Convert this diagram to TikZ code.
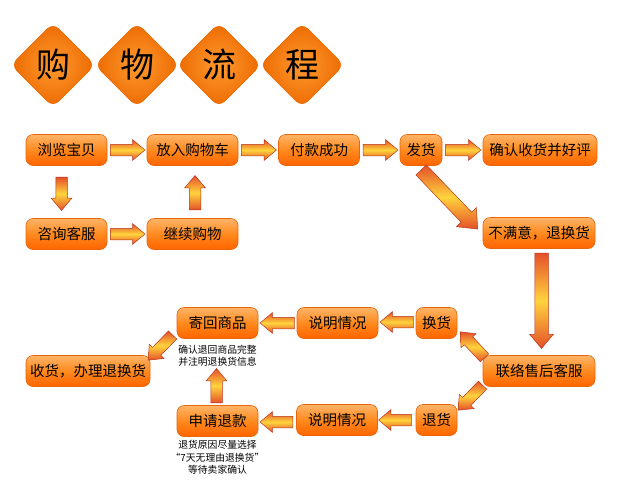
\documentclass[tikz,border=0pt]{standalone}
\usepackage{fontspec}
\setmainfont{Noto Sans CJK SC}
\usetikzlibrary{shapes.geometric,shapes.arrows,calc}
\definecolor{boxtop}{HTML}{FFB468}
\definecolor{boxmid}{HTML}{FF8A1E}
\definecolor{boxbot}{HTML}{FF6400}
\definecolor{boxedge}{HTML}{E8650A}
\definecolor{arrred}{HTML}{E4502A}
\definecolor{arryel}{HTML}{FFD43C}
\definecolor{arredge}{HTML}{B8361A}
\definecolor{dmin}{HTML}{FF9A30}
\definecolor{dmout}{HTML}{EC6A00}
\tikzset{
  box/.style={rectangle, rounded corners=7pt, draw=boxedge, line width=0.6pt,
    top color=boxtop, bottom color=boxbot, middle color=boxmid,
    minimum height=31pt, inner sep=1pt, text=black,
    font=\fontsize{14.5}{16}\selectfont},
  titlebox/.style={diamond, aspect=1, minimum width=84pt, minimum height=84pt,
    inner sep=0pt, rounded corners=8pt, draw=dmout, line width=0.6pt,
    inner color=dmin, outer color=dmout, text=black,
    font=\fontsize{34}{36}\selectfont},
  caption/.style={align=center, text=black, inner sep=0pt,
    font=\fontsize{9.8}{12.3}\selectfont},
  arrowshape/.style={single arrow, inner xsep=0pt, draw=arredge, line width=0.5pt,
    top color=arrred, bottom color=arrred, middle color=arryel,
    single arrow tip angle=80, minimum width=0pt},
  arrsmall/.style={inner ysep=5.5pt, single arrow head extend=4.5pt},
  arrlong/.style={inner ysep=6.5pt, single arrow head extend=5pt},
  arrbig/.style={inner ysep=7pt, single arrow head extend=6.5pt},
  fat/.style={to path={let \p1=(\tikztostart), \p2=(\tikztotarget),
      \n1={veclen(\x2-\x1,\y2-\y1)}, \n2={atan2(\y2-\y1,\x2-\x1)} in
      node[arrowshape, #1, minimum height=\n1, rotate=\n2, anchor=tail] at (\p1) {}
      (\tikztotarget)}},
  fat/.default=arrsmall
}
\begin{document}
\begin{tikzpicture}[x=1pt,y=-1pt]
\useasboundingbox[fill=white] (0,0) rectangle (620,496);
% title
\node[titlebox] (t1) at (53,65) {购};
\node[titlebox] (t2) at (137,65) {物};
\node[titlebox] (t3) at (219,65) {流};
\node[titlebox] (t4) at (302,65) {程};
% row 1
\node[box, minimum width=81pt]  (b1) at (66.5,150) {浏览宝贝};
\node[box, minimum width=91pt]  (b2) at (192.5,150) {放入购物车};
\node[box, minimum width=81pt]  (b3) at (319,150) {付款成功};
\node[box, minimum width=42pt]  (b4) at (421,150) {发货};
\node[box, minimum width=114pt] (b5) at (540,150) {确认收货并好评};
% row 2
\node[box, minimum width=81pt]  (c1) at (66.5,234) {咨询客服};
\node[box, minimum width=91pt]  (c2) at (192.5,234) {继续购物};
\node[box, minimum width=112pt] (c3) at (539,233) {不满意，退换货};
% after sales
\node[box, minimum width=112pt] (d)  at (539,371) {联络售后客服};
\node[box, minimum width=41pt]  (e1) at (436.5,323) {换货};
\node[box, minimum width=81pt]  (e2) at (337.5,323) {说明情况};
\node[box, minimum width=81pt]  (e3) at (217.5,323) {寄回商品};
\node[box, minimum width=41pt]  (f1) at (436.5,420) {退货};
\node[box, minimum width=81pt]  (f2) at (337,420) {说明情况};
\node[box, minimum width=81pt]  (f3) at (217.5,421) {申请退款};
\node[box, minimum width=124pt] (g)  at (88,371) {收货，办理退换货};
% captions
\node[caption] (cap1) at (217.5,355.5) {确认退回商品完整\\并注明退换货信息};
\node[caption] (cap2) at (217.5,457.5) {退货原因尽量选择\\“7天无理由退换货”\\等待卖家确认};
% arrows
\path ($(b1.east)+(3,0)$) to[fat] ($(b2.west)+(-2,0)$);
\path ($(b2.east)+(3,0)$) to[fat] ($(b3.west)+(-2,0)$);
\path ($(b3.east)+(3,0)$) to[fat] ($(b4.west)+(-2,0)$);
\path ($(b4.east)+(3,0)$) to[fat] ($(b5.west)+(-2,0)$);
\path ($(b1.south)+(-5,11)$) to[fat] ($(c1.north)+(-5,-8)$);
\path ($(c1.east)+(3,0)$) to[fat] ($(c2.west)+(-2,0)$);
\path ($(c2.north)+(2.5,-8)$) to[fat] ($(b2.south)+(2.5,10)$);
\path ($(b4.south)+(0,4)$) to[fat=arrbig] ($(c3.west)+(-5,-4)$);
\path ($(c3.south)+(2.5,4)$) to[fat=arrlong] ($(d.north)+(2.5,-7)$);
\path ($(d.west)+(2,-13)$) to[fat] ($(e1.east)+(3,9)$);
\path ($(d.west)+(0,14)$) to[fat] ($(f1.east)+(1,-10)$);
\path ($(e1.west)+(-2,-1)$) to[fat] ($(e2.east)+(2,-1)$);
\path ($(f1.west)+(-4,0)$) to[fat] ($(f2.east)+(1,0)$);
\path ($(e2.west)+(-2,0)$) to[fat] ($(e3.east)+(2,0)$);
\path ($(f2.west)+(-3,2)$) to[fat] ($(f3.east)+(2,1)$);
\path ($(f3.north)+(-1,-2)$) to[fat] ($(e3.south)+(-1,30)$);
\path ($(e3.south west)+(-4,-4)$) to[fat] ($(g.east)+(-2,-11)$);
\end{tikzpicture}
\end{document}
